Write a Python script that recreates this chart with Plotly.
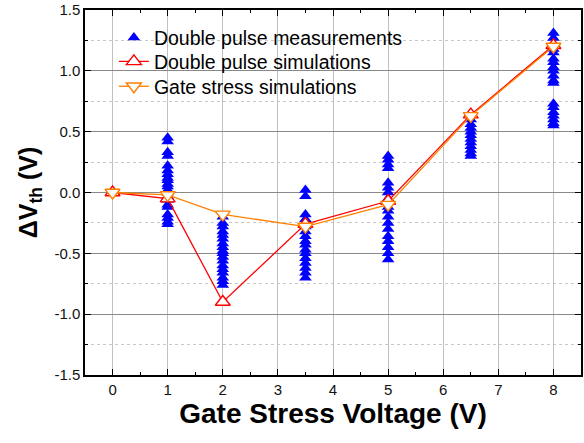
import plotly.graph_objects as go

# Measurements (double pulse)
meas_y1 = [0.45, 0.42, 0.33, 0.30, 0.22, 0.18, 0.15, 0.12, 0.10, 0.07, 0.05, 0.02, 0.0, -0.03, -0.06, -0.10, -0.12, -0.18, -0.21, -0.24, -0.26]
meas_y2 = [-0.20, -0.25, -0.28, -0.32, -0.35, -0.38, -0.42, -0.45, -0.48, -0.50, -0.53, -0.56, -0.60, -0.63, -0.66, -0.70, -0.73, -0.76]
meas_y35 = [0.02, -0.03, -0.18, -0.22, -0.25, -0.28, -0.32, -0.36, -0.40, -0.43, -0.47, -0.50, -0.54, -0.58, -0.62, -0.66, -0.70]
meas_y5 = [0.30, 0.27, 0.23, 0.20, 0.08, 0.04, 0.0, -0.05, -0.08, -0.12, -0.15, -0.20, -0.25, -0.30, -0.36, -0.40, -0.45, -0.50, -0.55]
meas_y65 = [0.65, 0.60, 0.56, 0.53, 0.50, 0.47, 0.44, 0.41, 0.38, 0.35, 0.32, 0.30]
meas_y8 = [1.31, 1.27, 1.22, 1.18, 1.15, 1.10, 1.07, 1.03, 1.00, 0.96, 0.92, 0.90, 0.73, 0.70, 0.66, 0.63, 0.60, 0.57, 0.55]

meas_groups = [(1, meas_y1), (2, meas_y2), (3.5, meas_y35), (5, meas_y5), (6.5, meas_y65), (8, meas_y8)]
meas_x = [gx for gx, ys in meas_groups for _ in ys]
meas_y = [y for gx, ys in meas_groups for y in ys]

sim_x = [0, 1, 2, 3.5, 5, 6.5, 8]
dp_sim_y = [0.0, -0.05, -0.90, -0.26, -0.07, 0.64, 1.21]
gs_sim_y = [0.0, -0.02, -0.18, -0.28, -0.10, 0.63, 1.20]

x_ticks = [0, 1, 2, 3, 4, 5, 6, 7, 8]
y_ticks = [-1.5, -1.0, -0.5, 0.0, 0.5, 1.0, 1.5]
y_labels = ["-1.5", "-1.0", "-0.5", "0.0", "0.5", "1.0", "1.5"]

FONT = "Liberation Sans"
W, H = 584, 443
ML, MR, MT, MB = 85, 1, 8, 68
PW, PH = W - ML - MR, H - MT - MB


def px_x(p):
    return (p - ML) / PW


def px_y(p):
    return 1 - (p - MT) / PH


fig = go.Figure()
fig.add_trace(go.Scatter(
    x=meas_x, y=meas_y, mode="markers", name="Double pulse measurements", legend="legend",
    showlegend=True,
    marker=dict(symbol="triangle-up", size=11, color="#0000FF", line=dict(width=0)),
))
fig.add_trace(go.Scatter(
    x=sim_x, y=dp_sim_y, mode="lines+markers", name="Double pulse simulations", legend="legend2",
    showlegend=True,
    line=dict(color="#FF0000", width=1.3),
    marker=dict(symbol="triangle-up", size=13, color="white", line=dict(color="#FF0000", width=1.4)),
))
fig.add_trace(go.Scatter(
    x=sim_x, y=gs_sim_y, mode="lines+markers", name="Gate stress simulations", legend="legend3",
    showlegend=True,
    line=dict(color="#FF8000", width=1.3),
    marker=dict(symbol="triangle-down", size=13, color="white", line=dict(color="#FF8000", width=1.4)),
))

leg_common = dict(xanchor="left", yanchor="middle", bgcolor="rgba(0,0,0,0)", borderwidth=0,
                  font=dict(family=FONT, size=19.5, color="#000000"))

# white box behind the legend entries (covers grid lines)
fig.add_shape(type="rect", xref="paper", yref="paper",
              x0=px_x(105), x1=px_x(407), y0=px_y(97), y1=px_y(20),
              fillcolor="white", line=dict(width=0), layer="below")

fig.update_layout(
    width=W, height=H,
    showlegend=True,
    margin=dict(l=ML, r=MR, t=MT, b=MB),
    paper_bgcolor="white", plot_bgcolor="white",
    font=dict(family=FONT, color="#000000"),
    legend=dict(x=px_x(114), y=px_y(36), **leg_common),
    legend2=dict(x=px_x(114), y=px_y(60), **leg_common),
    legend3=dict(x=px_x(114), y=px_y(85), **leg_common),
    xaxis=dict(
        range=[-0.5, 8.5], tickmode="array", tickvals=x_ticks,
        showline=True, linecolor="black", linewidth=1.5, mirror="ticks",
        ticks="inside", ticklen=6, tickcolor="black", tickwidth=1,
        showgrid=True, gridcolor="#C0C0C0", gridwidth=1,
        zeroline=False,
        tickfont=dict(family=FONT, size=15, color="#111111"),
        minor=dict(dtick=0.5, tick0=0, ticks="inside", ticklen=3, tickcolor="black", showgrid=False),
        title=dict(text="<b>Gate Stress Voltage (V)</b>", font=dict(family=FONT, size=28), standoff=6),
    ),
    yaxis=dict(
        range=[-1.5, 1.5], tickmode="array", tickvals=y_ticks, ticktext=y_labels,
        ticklabeloverflow="allow",
        showline=True, linecolor="black", linewidth=1.5, mirror="ticks",
        ticks="inside", ticklen=6, tickcolor="black", tickwidth=1,
        showgrid=True, gridcolor="#888888", gridwidth=1,
        zeroline=False,
        tickfont=dict(family=FONT, size=15, color="#111111"),
        minor=dict(dtick=0.25, tick0=0, ticks="inside", ticklen=3, tickcolor="black",
                   showgrid=True, gridcolor="#C8C8C8", griddash="dot", gridwidth=1),
        title=dict(text="<b>ΔV<sub>th</sub> (V)</b>", font=dict(family=FONT, size=25), standoff=10),
    ),
)

fig.write_html("out.html")
